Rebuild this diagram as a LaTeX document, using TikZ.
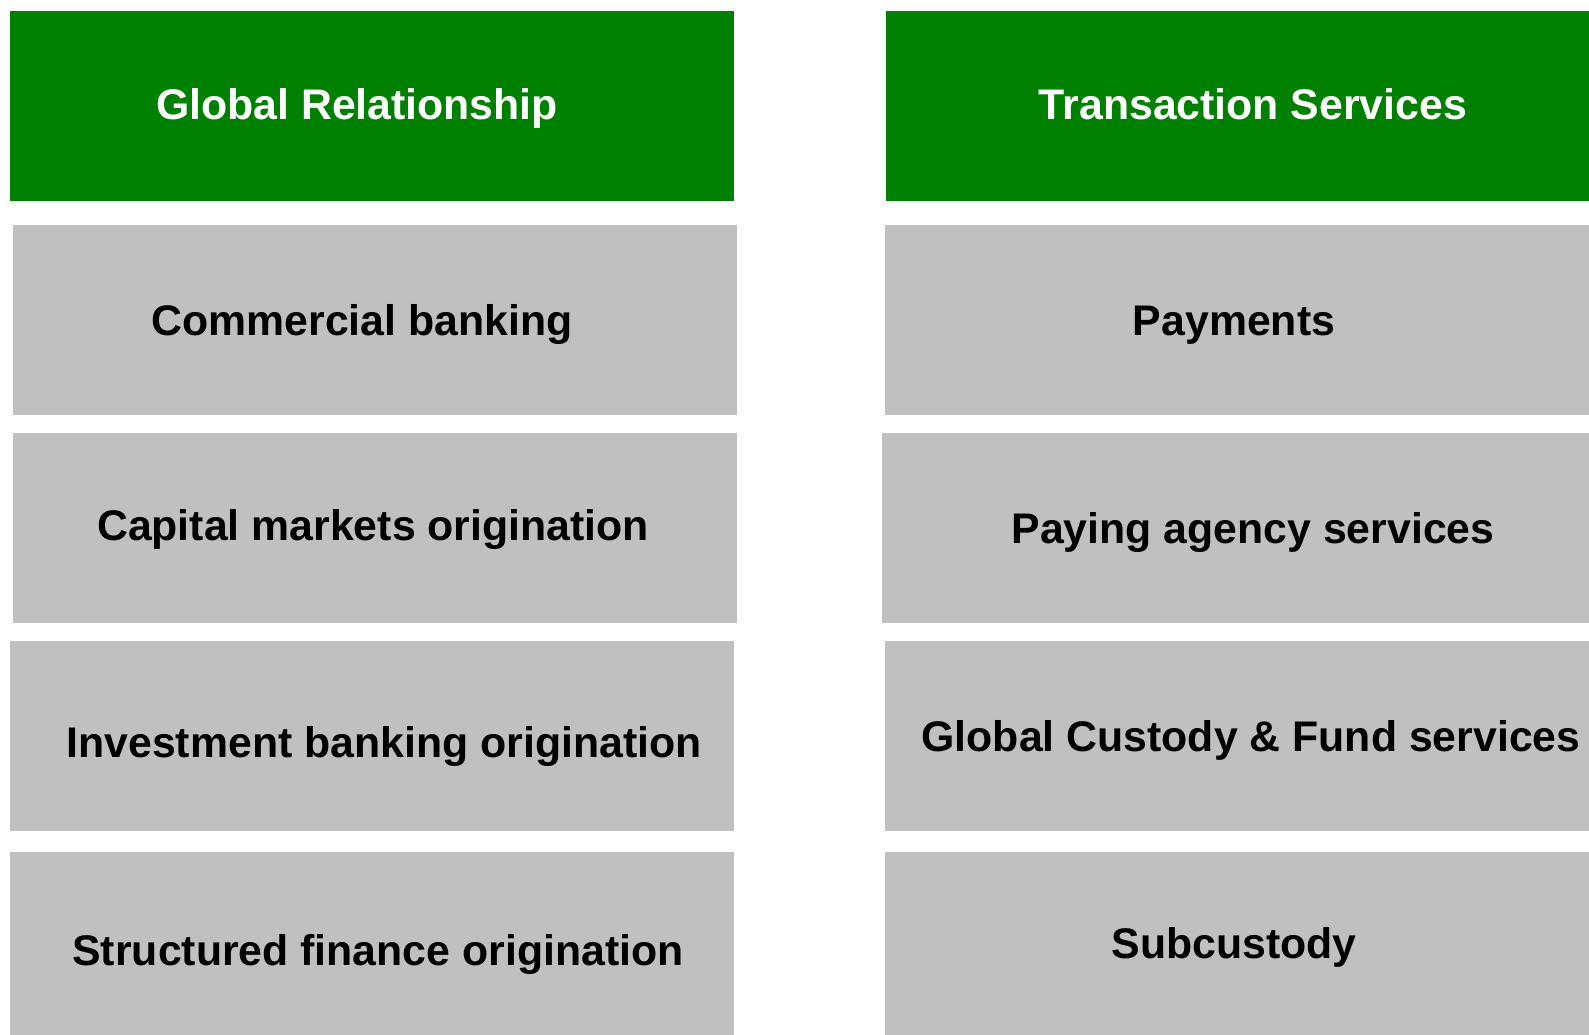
\documentclass[tikz,border=0pt]{standalone}
\usepackage{fontspec}
\setmainfont{Liberation Sans}
\definecolor{hdr}{RGB}{0,128,0}
\definecolor{cell}{RGB}{192,192,192}
\begin{document}
\begin{tikzpicture}[x=1pt,y=-1pt,
  hdrbox/.style={fill=hdr,draw=none},
  cellbox/.style={fill=cell,draw=none},
  lbl/.style={font=\fontsize{42.8}{50}\selectfont\bfseries, anchor=base, inner sep=0pt},
  hlbl/.style={lbl, text=white}
]
\useasboundingbox (0,0) rectangle (1589,1035);
% left column
\path[hdrbox]  (10,11)  rectangle (734,201);
\path[cellbox] (13,225) rectangle (737,415);
\path[cellbox] (13,433) rectangle (737,623);
\path[cellbox] (10,641) rectangle (734,831);
\path[cellbox] (10,852) rectangle (734,1035);
% right column
\path[hdrbox]  (886,11)  rectangle (1589,201);
\path[cellbox] (885,225) rectangle (1589,415);
\path[cellbox] (882,433) rectangle (1589,623);
\path[cellbox] (885,641) rectangle (1589,831);
\path[cellbox] (885,852) rectangle (1589,1035);
% labels
\node[hlbl] (gr) at (357,120) {Global Relationship};
\node[lbl]  (cb) at (362,335) {Commercial banking};
\node[lbl]  (cm) at (373,540) {Capital markets origination};
\node[lbl]  (ib) at (384,757) {Investment banking origination};
\node[lbl]  (sf) at (378,965) {Structured finance origination};
\node[hlbl] (ts) at (1253,120) {Transaction Services};
\node[lbl]  (pm) at (1234,335) {Payments};
\node[lbl]  (pa) at (1253,543) {Paying agency services};
\node[lbl]  (gc) at (1251,751) {Global Custody \& Fund services};
\node[lbl]  (sc) at (1234,958) {Subcustody};
\end{tikzpicture}
\end{document}
